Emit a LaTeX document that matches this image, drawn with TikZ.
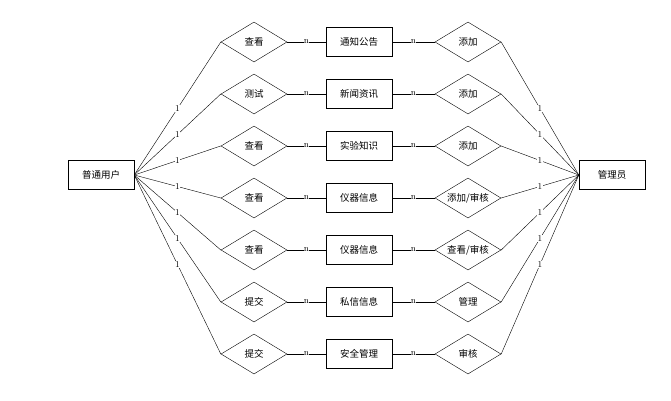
\documentclass[tikz,border=0pt]{standalone}
\usepackage{fontspec}
\newfontfamily\cjk{Noto Sans CJK SC}
\usetikzlibrary{shapes.geometric}
\begin{document}
\begin{tikzpicture}[x=1pt,y=-1pt,
  ent/.style={draw,minimum width=66pt,minimum height=29pt,inner sep=0pt,font=\cjk\fontsize{9.5}{10}\selectfont},
  rel/.style={draw,diamond,aspect=1.65,minimum width=66pt,minimum height=40pt,inner sep=0pt,font=\cjk\fontsize{9.5}{10}\selectfont},
  lab/.style={fill=white,inner sep=0.3pt,font=\fontsize{9}{10}\selectfont}]
\useasboundingbox (0,0) rectangle (671,400);
\node[ent] (u) at (101,175) {普通用户};
\node[ent] (a) at (612,175) {管理员};
\foreach \i/\l/\m/\r in {1/查看/通知公告/添加,2/测试/新闻资讯/添加,3/查看/实验知识/添加,4/查看/仪器信息/{添加/审核},5/查看/仪器信息/{查看/审核},6/提交/私信信息/管理,7/提交/安全管理/审核}{
  \pgfmathsetmacro\yy{42+52*(\i-1)}
  \node[rel] (l\i) at (254,\yy) {\l};
  \node[ent] (m\i) at (359,\yy) {\m};
  \node[rel] (r\i) at (468,\yy) {\r};
  \draw (u.east) -- node[lab]{1} (l\i.west);
  \draw (l\i) -- node[lab]{n} (m\i);
  \draw (m\i) -- node[lab]{n} (r\i);
  \draw (r\i.east) -- node[lab]{1} (a.west);
}
\end{tikzpicture}
\end{document}
